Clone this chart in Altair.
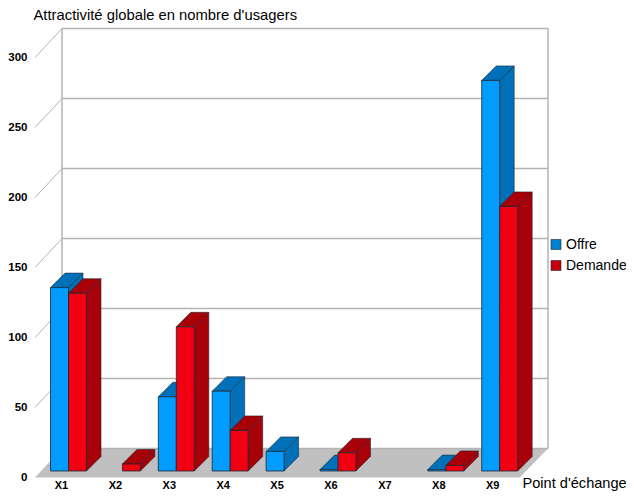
import altair as alt
import pandas as pd

# --- chart values -----------------------------------------------------------
CATEGORIES = ["X1", "X2", "X3", "X4", "X5", "X6", "X7", "X8", "X9"]
OFFRE = [131, 0, 53, 57, 14, 1, 0, 1, 279]
DEMANDE = [127, 5, 103, 29, 0, 13, 0, 4, 189]
SERIES = ["Offre", "Demande"]
TICKS = [0, 50, 100, 150, 200, 250, 300]
TITLE_Y = "Attractivité globale en nombre d'usagers"
TITLE_X = "Point d'échange"

# --- styles / frame geometry ------------------------------------------------
FONT = "Liberation Sans"
FRONT = {"Offre": "#009CFF", "Demande": "#F00010"}
DARK = {"Offre": "#0070B8", "Demande": "#A80008"}
LEGEND = {"Offre": "#0080D0", "Demande": "#C40010"}
EDGE = "#1A2530"
GRID = "#B3B3B3"
FLOOR = "#C0C0C0"

PX_CAT = 53.9   # pixels per category
PX_VAL = 1.4    # pixels per unit of value
W, H = 618, 471
TOP = 10.5      # reference row that lands on the plot's top edge


def ux(px):
    return (px - 68.5) / PX_CAT


def uy(px):
    return (473.5 - px) / PX_VAL


BAR = 18 / PX_CAT
DX = 14.5 / PX_CAT
DY = 14.5 / PX_VAL
FRONT_L, FRONT_R, BACK_L, BACK_R = ux(35), ux(519.7), ux(62), ux(548)
FRONT_Y, BACK_Y = uy(480), uy(451)

XS = alt.Scale(domain=[ux(8), ux(8 + W)], nice=False, zero=False)
YS = alt.Scale(domain=[uy(TOP + H), uy(TOP)], nice=False, zero=False)

AX = alt.Axis(
    values=list(range(len(CATEGORIES))),
    labelExpr="['" + "','".join(CATEGORIES) + "'][datum.value]",
    domain=False, ticks=False, grid=False, labelPadding=0, labelOffset=-7.5,
    labelFont=FONT, labelFontWeight="bold", labelFontSize=11, labelColor="#000000",
    labelFlush=False, labelOverlap=False, labelBound=False,
    title=TITLE_X, titleFont=FONT, titleFontSize=14.6, titleFontWeight="normal",
    titleColor="#000000", titleAlign="left", titleBaseline="alphabetic",
    titleX=514, titleY=8,
)
AY = alt.Axis(
    values=TICKS, orient="left", offset=-19,
    domain=False, ticks=False, grid=False, labelPadding=0,
    labelOffset=FRONT_Y * -PX_VAL,
    labelFont=FONT, labelFontWeight="bold", labelFontSize=11.5, labelColor="#000000",
    labelFlush=False, labelOverlap=False, labelBound=False,
    title=TITLE_Y, titleFont=FONT, titleFontSize=14.8, titleFontWeight="normal",
    titleColor="#000000", titleAlign="left", titleBaseline="alphabetic", titleAngle=0,
    titleX=6, titleY=11.5,
)


def X(f):
    return alt.X(f"{f}:Q", scale=XS, axis=AX, stack=None)


def Y(f):
    return alt.Y(f"{f}:Q", scale=YS, axis=AY, stack=None)


# --- faces ------------------------------------------------------------------
fronts, sides, tops = {s: [] for s in SERIES}, {s: [] for s in SERIES}, {s: [] for s in SERIES}
for s, vals, shift in (("Offre", OFFRE, -BAR), ("Demande", DEMANDE, 0.0)):
    for i, v in enumerate(vals):
        if v == 0:
            continue
        l, r = i + shift, i + shift + BAR
        key = f"{s}{i}"
        fronts[s].append(dict(x=l, x2=r, y=0, y2=v, fill=FRONT[s]))
        sides[s] += [dict(id=key, x=r, y=0, y2=v), dict(id=key, x=r + DX, y=DY, y2=v + DY)]
        tops[s] += [dict(id=key, y=v, x=l, x2=r), dict(id=key, y=v + DY, x=l + DX, x2=r + DX)]

# --- frame ------------------------------------------------------------------
floor = alt.Chart(pd.DataFrame([
    dict(y=FRONT_Y, x=FRONT_L, x2=FRONT_R),
    dict(y=BACK_Y, x=BACK_L, x2=BACK_R),
])).mark_area(orient="horizontal", color=FLOOR).encode(
    y=Y("y"), x=X("x"), x2="x2:Q"
)

wall_pts = []
for t in TICKS:
    wall_pts += [dict(id=f"h{t}", x=BACK_L, y=t + BACK_Y), dict(id=f"h{t}", x=BACK_R, y=t + BACK_Y)]
wall_pts += [dict(id="l", x=BACK_L, y=BACK_Y), dict(id="l", x=BACK_L, y=300 + BACK_Y)]
wall_pts += [dict(id="r", x=BACK_R, y=BACK_Y), dict(id="r", x=BACK_R, y=300 + BACK_Y)]
walls = alt.Chart(pd.DataFrame(wall_pts)).mark_line(color=GRID, strokeWidth=1.5).encode(
    x=X("x"), y=Y("y"), detail="id:N"
)

diag_pts = []
for t in TICKS[1:]:
    diag_pts += [dict(id=f"d{t}", x=FRONT_L, y=t + FRONT_Y), dict(id=f"d{t}", x=BACK_L, y=t + BACK_Y)]
diags = alt.Chart(pd.DataFrame(diag_pts)).mark_line(color=GRID, strokeWidth=1).encode(
    x=X("x"), y=Y("y"), detail="id:N"
)

layers = [floor, walls, diags]
for s in SERIES:
    layers.append(alt.Chart(pd.DataFrame(sides[s])).mark_area(
        color=DARK[s], stroke=EDGE, strokeWidth=0.7, strokeOpacity=0.8
    ).encode(x=X("x"), y=Y("y"), y2="y2:Q", detail="id:N"))
    layers.append(alt.Chart(pd.DataFrame(tops[s])).mark_area(
        orient="horizontal", color=DARK[s], stroke=EDGE, strokeWidth=0.7, strokeOpacity=0.8
    ).encode(y=Y("y"), x=X("x"), x2="x2:Q", detail="id:N"))
    layers.append(alt.Chart(pd.DataFrame(fronts[s])).mark_rect(
        stroke=EDGE, strokeWidth=0.8
    ).encode(x=X("x"), x2="x2:Q", y=Y("y"), y2="y2:Q", fill=alt.Fill("fill:N", scale=None)))

legend_layer = alt.Chart(pd.DataFrame({"serie": SERIES, "x": [0, 0], "y": [0, 0]})).mark_square(
    opacity=0, size=0
).encode(
    x=X("x"), y=Y("y"),
    color=alt.Color("serie:N", sort=SERIES,
                    scale=alt.Scale(domain=SERIES, range=[LEGEND[s] for s in SERIES]),
                    legend=alt.Legend(
                        orient="none", legendX=541, legendY=229.5, title=None,
                        symbolType="square", symbolSize=100, symbolOpacity=1,
                        symbolStrokeColor=EDGE, symbolStrokeWidth=0.6,
                        labelFont=FONT, labelFontSize=14, labelColor="#000000",
                        labelOffset=3, rowPadding=7, padding=0,
                    )),
)

chart = alt.layer(*layers, legend_layer).properties(
    width=W, height=H,
    padding={"left": 0, "top": 0, "right": 0, "bottom": 12},
    autosize=alt.AutoSizeParams(type="none"),
    background="#FFFFFF",
).configure_view(stroke=None)

chart.save("out.html", embed_options={"renderer": "svg", "actions": False})
